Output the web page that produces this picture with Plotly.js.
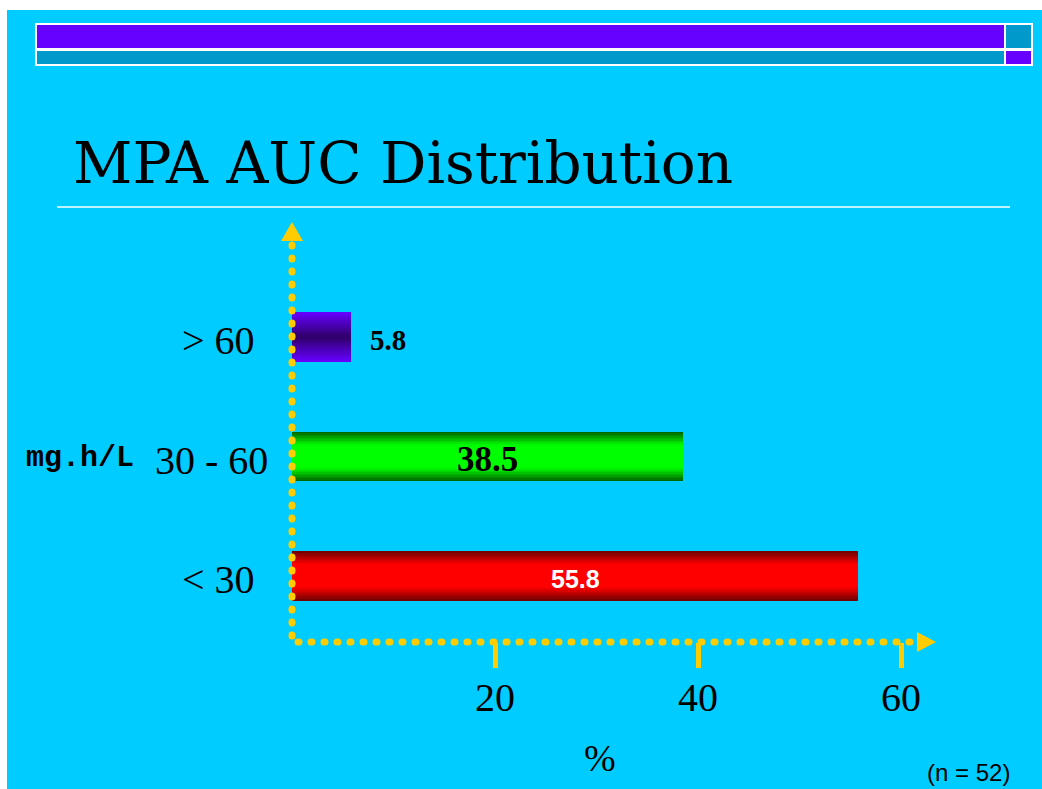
<!DOCTYPE html>
<html>
<head>
<meta charset="utf-8">
<script src="https://cdn.plot.ly/plotly-3.0.1.min.js"></script>
<style>
  html, body { margin: 0; padding: 0; background: #ffffff; }
  #chart { width: 1042px; height: 789px; }
</style>
</head>
<body>
<div id="chart"></div>
<script>
// AUC ranges (mg.h/L), bottom row first, and share of patients (%)
const categories = ['< 30', '30 - 60', '> 60'];
const percents = [55.8, 38.5, 5.8];
const xTickValues = [20, 40, 60];
const xTickLabels = ['20', '40', '60'];
const unitLabel = 'mg.h/L';
const axisTitle = '%';
const sampleNote = '(n = 52)';
const chartTitle = 'MPA AUC Distribution';

// Page geometry (pixels) and helpers to turn page pixels into paper coords
const W = 1042, H = 789;
const M = { l: 292, r: 42, t: 220, b: 89 };
const plotW = W - M.l - M.r, plotH = H - M.t - M.b;
const PX = x => (x - M.l) / plotW;
const PY = y => (H - M.b - y) / plotH;

// Bar shading: colour at the long edges and at the centre line of each bar
const barShade = [
  { edge: [118, 0, 0],   mid: [255, 0, 0],   reach: 0.26 },
  { edge: [0, 105, 0],   mid: [0, 255, 0],   reach: 0.26 },
  { edge: [102, 0, 255], mid: [45, 0, 100],  reach: 0.5 }
];
const barWidth = 0.418;
const layers = 16;

function mix(a, b, t) {
  return 'rgb(' + a.map((v, k) => Math.round(v + (b[k] - v) * t)).join(',') + ')';
}

const traces = [];
for (let i = 0; i < layers; i++) {
  const d = (i / layers) * 0.5;           // distance from the bar edge, as share of bar height
  traces.push({
    type: 'bar',
    orientation: 'h',
    x: percents,
    y: categories,
    width: barWidth * (1 - i / layers),
    marker: {
      color: barShade.map(s => mix(s.edge, s.mid, Math.min(1, d / s.reach))),
      line: { width: 0 }
    },
    hoverinfo: 'skip',
    showlegend: false
  });
}

// Value labels: outside for the short bar, inside for the others
const valueStyle = [
  { pos: 'mid', font: { family: 'Liberation Sans, Arial, sans-serif', size: 25, color: '#ffffff', weight: 'bold' } },
  { pos: 'mid', font: { family: 'Liberation Serif, Times New Roman, serif', size: 35, color: '#000000', weight: 'bold' } },
  { pos: 'end', font: { family: 'Liberation Serif, Times New Roman, serif', size: 29, color: '#000000', weight: 'bold' } }
];
const catShift = [-35, -22, -35];
const serif40 = { family: 'Liberation Serif, Times New Roman, serif', size: 40, color: '#000000' };

const annotations = [];
categories.forEach((c, i) => {
  annotations.push({
    xref: 'x', yref: 'y', x: 0, y: c, xanchor: 'right', yanchor: 'middle',
    xshift: catShift[i], yshift: -4, showarrow: false, text: c, font: serif40
  });
  const st = valueStyle[i];
  annotations.push({
    xref: 'x', yref: 'y', y: c, showarrow: false, text: percents[i].toFixed(1),
    x: st.pos === 'mid' ? percents[i] / 2 : percents[i],
    xanchor: st.pos === 'mid' ? 'center' : 'left',
    xshift: st.pos === 'mid' ? 0 : 17,
    yanchor: 'middle', yshift: -3, font: st.font
  });
});
// x tick labels, set below the tick marks
xTickValues.forEach((v, i) => {
  annotations.push({
    xref: 'x', yref: 'paper', x: v, y: PY(697), xanchor: 'center', yanchor: 'middle',
    showarrow: false, text: xTickLabels[i], font: serif40
  });
});
annotations.push({
  xref: 'paper', yref: 'y', x: PX(24), y: categories[1], xanchor: 'left', yanchor: 'middle',
  showarrow: false, text: unitLabel, yshift: -2,
  font: { family: 'Liberation Mono, Courier New, monospace', size: 30, color: '#000000', weight: 'bold' }
});
annotations.push({
  xref: 'paper', yref: 'paper', x: PX(600), y: PY(758), xanchor: 'center', yanchor: 'middle',
  showarrow: false, text: axisTitle,
  font: { family: 'Liberation Serif, Times New Roman, serif', size: 38, color: '#000000' }
});
annotations.push({
  xref: 'paper', yref: 'paper', x: PX(968), y: PY(772), xanchor: 'center', yanchor: 'middle',
  showarrow: false, text: sampleNote,
  font: { family: 'Liberation Sans, Arial, sans-serif', size: 24, color: '#000000' }
});

const CYAN = '#00CCFF', PURPLE = '#6600FF', TEAL = '#0099CC', GOLD = '#FFCC00';
const rect = (x0, y0, x1, y1, fill, layer) => ({
  type: 'rect', xref: 'paper', yref: 'paper',
  x0: PX(x0), x1: PX(x1), y0: PY(y1), y1: PY(y0),
  fillcolor: fill, line: { width: 0 }, layer: layer || 'below'
});
const tri = (pts) => ({
  type: 'path', xref: 'paper', yref: 'paper', layer: 'above',
  path: 'M' + pts.map(p => PX(p[0]) + ',' + PY(p[1])).join(' L') + ' Z',
  fillcolor: GOLD, line: { width: 0 }
});

const shapes = [
  rect(7, 10, W, H, CYAN),
  // banner strips
  rect(35, 23, 1033, 66, '#ffffff'),
  rect(37, 25, 1004, 48, PURPLE),
  rect(1006, 25, 1031, 48, TEAL),
  rect(37, 51, 1004, 64, TEAL),
  rect(1006, 51, 1031, 64, PURPLE),
  // rule under the title
  { type: 'line', xref: 'paper', yref: 'paper', x0: PX(57), x1: PX(1010), y0: PY(207), y1: PY(207),
    line: { color: '#ffffff', width: 1.5 }, layer: 'below' },
  // dotted axes with arrow heads
  { type: 'line', xref: 'paper', yref: 'paper', x0: 0, x1: 0, y0: PY(636), y1: PY(244),
    line: { color: GOLD, width: 7, dash: '1px,12px' }, layer: 'above' },
  { type: 'line', xref: 'paper', yref: 'paper', x0: PX(298), x1: PX(914), y0: PY(642), y1: PY(642),
    line: { color: GOLD, width: 7, dash: '1px,12px' }, layer: 'above' },
  tri([[292, 222], [303, 241], [281, 241]]),
  tri([[936, 642], [917, 652], [917, 632]])
];

const layout = {
  width: W, height: H,
  margin: M,
  paper_bgcolor: '#ffffff',
  plot_bgcolor: 'rgba(0,0,0,0)',
  barmode: 'overlay',
  bargap: 0,
  showlegend: false,
  hovermode: false,
  title: {
    text: chartTitle,
    xref: 'container', yref: 'container',
    x: 73 / W, xanchor: 'left',
    y: 1 - 163 / H, yanchor: 'middle',
    font: { family: 'DejaVu Serif, serif', size: 58, color: '#000000' }
  },
  xaxis: {
    range: [0, plotW / 10.15],
    tickvals: xTickValues,
    ticks: 'outside', ticklen: 25, tickwidth: 5, tickcolor: GOLD,
    showticklabels: false,
    showline: false, showgrid: false, zeroline: false,
    anchor: 'free', position: PY(642),
    fixedrange: true
  },
  yaxis: {
    type: 'category',
    categoryorder: 'array', categoryarray: categories,
    range: [-1.038, 2.979],
    showticklabels: false, showgrid: false, zeroline: false, showline: false, ticks: '',
    fixedrange: true
  },
  shapes: shapes,
  annotations: annotations
};

Plotly.newPlot('chart', traces, layout, { displayModeBar: false, staticPlot: true }).then(gd => {
  // round the dash caps so the axis lines read as rows of dots
  gd.querySelectorAll('.shapelayer path').forEach(p => {
    if ((p.style.strokeDasharray || '').length) p.style.strokeLinecap = 'round';
  });
});
</script>
</body>
</html>
